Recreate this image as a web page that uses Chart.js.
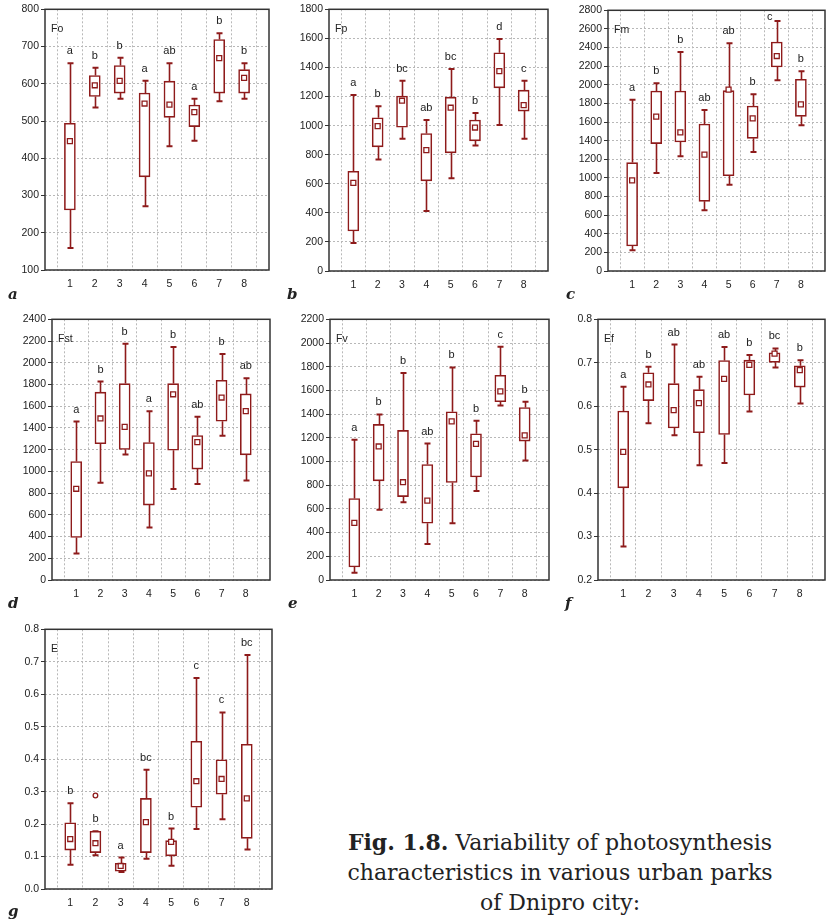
<!DOCTYPE html>
<html lang="en">
  <head>
    <meta charset="UTF-8" />
    <title>Variability of photosynthesis characteristics</title>
    <script src="https://cdn.jsdelivr.net/npm/chart.js@4.4.0/dist/chart.umd.min.js"></script>
    <style>
      body { margin: 0; background: #fff; width: 834px; height: 922px; overflow: hidden; position: relative; }
      canvas { position: absolute; }
      .tag { position: absolute; font-family: "DejaVu Serif", "Liberation Serif", serif; font-weight: bold; font-style: italic; font-size: 15px; color: #222; }
      #caption { position: absolute; left: 310px; width: 500px; top: 827px; text-align: center;
        font-family: "DejaVu Serif", "Liberation Serif", serif; font-size: 22px; line-height: 30px; color: #222; }
    </style>
  </head>
  <body>
    <div id="caption"><b>Fig. 1.8.</b> Variability of photosynthesis<br>characteristics in various urban parks<br>of Dnipro city:</div>

    <script>
      const parks = ["1", "2", "3", "4", "5", "6", "7", "8"];

      // Fo
      const foLow = [159, 536, 560, 271, 432, 447, 553, 560];
      const foQ1 = [261, 566, 575, 350, 510, 485, 575, 575];
      const foMed = [446, 596, 608, 547, 544, 524, 669, 616];
      const foQ3 = [494, 622, 649, 575, 607, 543, 719, 638];
      const foHigh = [655, 643, 670, 608, 655, 560, 736, 655];
      const foLetters = ["a", "b", "b", "a", "ab", "a", "b", "b"];

      // Fp
      const fpLow = [193, 767, 909, 413, 638, 863, 1005, 909];
      const fpQ1 = [275, 854, 989, 620, 813, 895, 1260, 1100];
      const fpMed = [606, 996, 1171, 831, 1123, 987, 1375, 1141];
      const fpQ3 = [686, 1054, 1203, 946, 1196, 1038, 1501, 1244];
      const fpHigh = [1210, 1134, 1309, 1038, 1389, 1086, 1595, 1309];
      const fpLetters = ["a", "b", "bc", "ab", "bc", "b", "d", "c"];

      // Fm
      const fmLow = [222, 1053, 1232, 652, 927, 1278, 2048, 1565];
      const fmQ1 = [269, 1368, 1386, 748, 1024, 1425, 2191, 1661];
      const fmMed = [974, 1658, 1489, 1250, 1948, 1640, 2309, 1790];
      const fmQ3 = [1164, 1933, 1933, 1579, 1937, 1772, 2460, 2059];
      const fmHigh = [1840, 2016, 2352, 1729, 2445, 1898, 2685, 2145];
      const fmLetters = ["a", "b", "b", "ab", "ab", "b", "c", "b"];

      // Fst
      const fstLow = [245, 895, 1156, 484, 837, 883, 1327, 916];
      const fstQ1 = [392, 1254, 1202, 690, 1195, 1021, 1462, 1152];
      const fstMed = [840, 1487, 1410, 981, 1710, 1269, 1680, 1554];
      const fstQ3 = [1091, 1729, 1808, 1266, 1808, 1330, 1839, 1713];
      const fstHigh = [1459, 1827, 2176, 1554, 2146, 1502, 2081, 1857];
      const fstLetters = ["a", "b", "b", "a", "b", "ab", "b", "ab"];

      // Fv
      const fvLow = [62, 592, 656, 304, 479, 752, 1473, 1008];
      const fvQ1 = [110, 837, 704, 479, 823, 870, 1504, 1172];
      const fvMed = [482, 1127, 825, 670, 1338, 1149, 1592, 1220];
      const fvQ3 = [687, 1313, 1262, 975, 1420, 1234, 1727, 1456];
      const fvHigh = [1183, 1397, 1746, 1152, 1794, 1344, 1969, 1504];
      const fvLetters = ["a", "b", "b", "ab", "b", "b", "c", "b"];

      // Ef
      const efLow = [0.277, 0.561, 0.533, 0.464, 0.469, 0.588, 0.689, 0.606];
      const efQ1 = [0.412, 0.613, 0.55, 0.539, 0.535, 0.626, 0.701, 0.644];
      const efMed = [0.495, 0.65, 0.591, 0.607, 0.663, 0.695, 0.721, 0.683];
      const efQ3 = [0.589, 0.677, 0.652, 0.638, 0.705, 0.706, 0.723, 0.693];
      const efHigh = [0.645, 0.691, 0.742, 0.668, 0.736, 0.718, 0.733, 0.706];
      const efLetters = ["a", "b", "ab", "ab", "ab", "b", "bc", "b"];

      // E
      const eLow = [0.075, 0.104, 0.052, 0.093, 0.072, 0.185, 0.215, 0.122];
      const eQ1 = [0.12, 0.112, 0.055, 0.112, 0.102, 0.252, 0.292, 0.156];
      const eMed = [0.154, 0.141, 0.071, 0.206, 0.145, 0.332, 0.339, 0.279];
      const eQ3 = [0.204, 0.178, 0.079, 0.279, 0.149, 0.455, 0.398, 0.446];
      const eHigh = [0.264, 0.178, 0.097, 0.367, 0.186, 0.65, 0.544, 0.721];
      const eOutliers = [null, 0.288, null, null, null, null, null, null];
      const eLetters = ["b", "b", "a", "bc", "b", "c", "c", "bc"];

      const RED = "#8e1b1b";
      const INK = "#222";

      const panels = [
        { tag: "a", name: "Fo", area: [45, 9, 275, 270], y: [100, 800, 100, 0],
          low: foLow, q1: foQ1, med: foMed, q3: foQ3, high: foHigh, letters: foLetters },
        { tag: "b", name: "Fp", area: [329, 9, 554, 271], y: [0, 1800, 200, 0],
          low: fpLow, q1: fpQ1, med: fpMed, q3: fpQ3, high: fpHigh, letters: fpLetters },
        { tag: "c", name: "Fm", area: [608, 10, 831, 271], y: [0, 2800, 200, 0],
          low: fmLow, q1: fmQ1, med: fmMed, q3: fmQ3, high: fmHigh, letters: fmLetters },
        { tag: "d", name: "Fst", area: [52, 319, 276, 580], y: [0, 2400, 200, 0],
          low: fstLow, q1: fstQ1, med: fstMed, q3: fstQ3, high: fstHigh, letters: fstLetters },
        { tag: "e", name: "Fv", area: [330, 319, 555, 580], y: [0, 2200, 200, 0],
          low: fvLow, q1: fvQ1, med: fvMed, q3: fvQ3, high: fvHigh, letters: fvLetters },
        { tag: "f", name: "Ef", area: [598, 319, 831, 580], y: [0.2, 0.8, 0.1, 1],
          low: efLow, q1: efQ1, med: efMed, q3: efQ3, high: efHigh, letters: efLetters },
        { tag: "g", name: "E", area: [45, 629, 278, 889], y: [0, 0.8, 0.1, 1],
          low: eLow, q1: eQ1, med: eMed, q3: eQ3, high: eHigh, letters: eLetters, out: eOutliers },
      ];
      const tagPos = { a: [8, 285], b: [287, 285], c: [566, 285], d: [8, 594], e: [288, 594], f: [565, 594], g: [8, 902] };

      const pad = (arr) => [null, ...arr, null];

      panels.forEach(makePanel);

      function makePanel(p) {
        const [L, T, R, B] = p.area;
        const yw = 45, top = 8, bottom = 26;
        const cv = document.createElement("canvas");
        const cl = L - yw, ct = T - top;
        cv.width = R - cl + 2;
        cv.height = B - ct + bottom;
        cv.style.left = cl + "px";
        cv.style.top = ct + "px";
        document.body.appendChild(cv);

        const tag = document.createElement("div");
        tag.className = "tag";
        tag.textContent = p.tag;
        tag.style.left = tagPos[p.tag][0] + "px";
        tag.style.top = tagPos[p.tag][1] + "px";
        document.body.appendChild(tag);

        // whiskers, frame, letters and panel name
        const boxExtras = {
          id: "boxExtras",
          beforeDatasetsDraw(chart) {
            const { ctx, scales } = chart;
            const xs = scales.x, ys = scales.y;
            ctx.save();
            ctx.strokeStyle = RED;
            for (let i = 0; i < parks.length; i++) {
              const x = Math.round(xs.getPixelForValue(i + 1)) + 0.5;
              const yl = ys.getPixelForValue(p.low[i]);
              const yh = ys.getPixelForValue(p.high[i]);
              ctx.lineWidth = 1.6;
              ctx.beginPath();
              ctx.moveTo(x, yh);
              ctx.lineTo(x, ys.getPixelForValue(p.q3[i]));
              ctx.moveTo(x, ys.getPixelForValue(p.q1[i]));
              ctx.lineTo(x, yl);
              ctx.stroke();
              ctx.lineWidth = 2;
              ctx.beginPath();
              ctx.moveTo(x - 3, yh);
              ctx.lineTo(x + 3, yh);
              ctx.moveTo(x - 3, yl);
              ctx.lineTo(x + 3, yl);
              ctx.stroke();
            }
            ctx.restore();
          },
          afterDatasetsDraw(chart) {
            const { ctx, scales, chartArea: a } = chart;
            const xs = scales.x, ys = scales.y;
            ctx.save();
            ctx.fillStyle = INK;
            ctx.font = "11px 'Liberation Sans', Arial, sans-serif";
            ctx.textAlign = "center";
            ctx.textBaseline = "middle";
            for (let i = 0; i < parks.length; i++) {
              let x = xs.getPixelForValue(i + 1);
              let y = ys.getPixelForValue(p.high[i]) - 12;
              if (y < a.top + 8) { y = a.top + 7; x -= 7; }
              ctx.fillText(p.letters[i], x, y);
            }
            ctx.textAlign = "left";
            ctx.font = "10.5px 'Liberation Sans', Arial, sans-serif";
            ctx.fillText(p.name, a.left + 6, a.top + 20);
            ctx.strokeStyle = "#333";
            ctx.lineWidth = 1.5;
            ctx.strokeRect(a.left, a.top, a.right - a.left, a.bottom - a.top);
            ctx.restore();
          },
        };

        const datasets = [
          {
            type: "bar",
            data: pad(p.q1.map((v, i) => [v, p.q3[i]])),
            backgroundColor: "#fff",
            borderColor: RED,
            borderWidth: 1.6,
            borderSkipped: false,
            barThickness: 11,
            order: 2,
          },
          {
            type: "line",
            data: pad(p.med),
            showLine: false,
            pointStyle: "rect",
            pointRadius: 3.5,
            pointBackgroundColor: "#fff",
            pointBorderColor: RED,
            pointBorderWidth: 1.3,
            order: 1,
          },
        ];
        if (p.out) {
          datasets.push({
            type: "line",
            data: pad(p.out),
            showLine: false,
            pointStyle: "circle",
            pointRadius: 2.3,
            pointBackgroundColor: "#fff",
            pointBorderColor: RED,
            pointBorderWidth: 1.3,
            order: 1,
          });
        }

        new Chart(cv, {
          type: "bar",
          data: { labels: ["", ...parks, ""], datasets },
          options: {
            responsive: false,
            devicePixelRatio: 1,
            animation: false,
            layout: { padding: { top: top, right: 2, left: 0, bottom: 0 } },
            plugins: { legend: { display: false }, tooltip: { enabled: false } },
            scales: {
              x: {
                offset: false,
                grid: { color: "#b8b8b8", drawTicks: false },
                border: { display: false, dash: [2, 2] },
                ticks: { color: INK, padding: 8, maxRotation: 0, autoSkip: false,
                  font: { family: "'Liberation Sans', Arial, sans-serif", size: 10.5 } },
                afterFit: (s) => { s.height = bottom; },
              },
              y: {
                min: p.y[0],
                max: p.y[1],
                grid: { color: "#b8b8b8", tickLength: 4, tickColor: "#333", tickBorderDash: [] },
                border: { display: false, dash: [2, 2] },
                ticks: { stepSize: p.y[2], color: INK, padding: 2,
                  font: { family: "'Liberation Sans', Arial, sans-serif", size: 10.5 },
                  callback: (v) => v.toFixed(p.y[3]) },
                afterFit: (s) => { s.width = yw; },
              },
            },
          },
          plugins: [boxExtras],
        });
      }
    </script>
  </body>
</html>
